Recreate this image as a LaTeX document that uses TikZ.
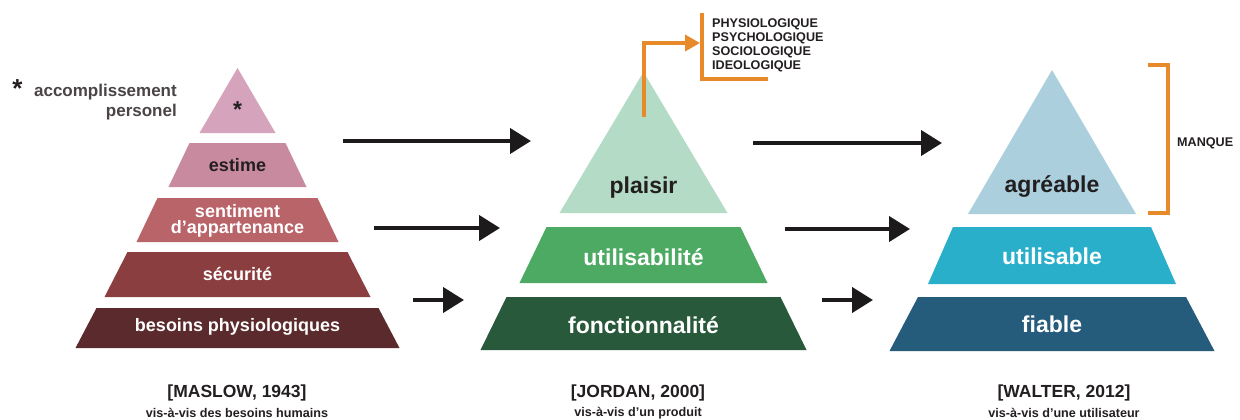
\documentclass[tikz,border=0pt]{standalone}
\usepackage{fontspec}
\setmainfont{Liberation Sans}
\usetikzlibrary{arrows.meta}
\definecolor{mA}{HTML}{D6A3BC}
\definecolor{mB}{HTML}{C88A9E}
\definecolor{mC}{HTML}{B96469}
\definecolor{mD}{HTML}{8B3E40}
\definecolor{mE}{HTML}{5B2A2C}
\definecolor{jA}{HTML}{B3DBC6}
\definecolor{jB}{HTML}{4CAA62}
\definecolor{jC}{HTML}{28593A}
\definecolor{wA}{HTML}{ABCFDD}
\definecolor{wB}{HTML}{2AAFCB}
\definecolor{wC}{HTML}{255B7B}
\definecolor{orangeline}{HTML}{E8892A}
\definecolor{arrowblack}{HTML}{1C1A1A}
\definecolor{textdark}{HTML}{231F20}
\definecolor{labelgray}{HTML}{4A4446}
\newcommand\pyrlayer[6]{\fill[#6] ({#1-#3},#2) -- ({#1+#3},#2) -- ({#1+#5},#4) -- ({#1-#5},#4) -- cycle;}
\tikzset{
  lbl/.style={font=\bfseries\fontsize{18}{16.5}\selectfont, align=center, inner sep=0pt, text=white},
  big/.style={font=\bfseries\fontsize{23}{26}\selectfont, inner sep=0pt, text=white},
  flow/.style={line width=4.2pt, draw=arrowblack, -{Triangle[length=21pt,width=25pt]}},
  obr/.style={line width=3.5pt, draw=orangeline},
  small/.style={font=\bfseries\fontsize{12.6}{14}\selectfont, inner sep=0pt, text=textdark},
  refl/.style={font=\bfseries\fontsize{17.5}{20}\selectfont, inner sep=0pt, text=textdark},
  subl/.style={font=\bfseries\fontsize{12.6}{14}\selectfont, inner sep=0pt, text=textdark},
}
\begin{document}
\begin{tikzpicture}[x=1pt,y=-1pt]
\useasboundingbox[fill=white] (0,0) rectangle (1240,420);
% ---------- Maslow ----------
\fill[mA] (237.5,68) -- (275.5,133) -- (199.5,133) -- cycle;
\pyrlayer{237.5}{143}{48}{187}{69}{mB}
\pyrlayer{237.5}{198}{80}{242}{101}{mC}
\pyrlayer{237.5}{252}{110}{297}{133}{mD}
\pyrlayer{237.5}{308}{141}{348}{162}{mE}
\node[big, text=textdark, anchor=north] (mstar) at (237.5,101) {*};
\node[lbl, text=textdark] (mest) at (237.5,165) {estime};
\node[lbl] (msent) at (237.5,221) {sentiment\\d’appartenance};
\node[lbl] (msec) at (237.5,274) {sécurité};
\node[lbl] (mbes) at (237.5,327) {besoins physiologiques};
\node[font=\bfseries\fontsize{26}{26}\selectfont, inner sep=0pt, text=textdark, anchor=north] (lstar) at (17.5,79) {*};
\node[font=\bfseries\fontsize{17}{19.5}\selectfont, inner sep=0pt, text=labelgray, align=right, anchor=east] (lacc) at (177,102) {accomplissement\\personel};
% ---------- Jordan ----------
\fill[jA] (643.5,72) -- (727.5,213) -- (559.5,213) -- cycle;
\pyrlayer{643.5}{227}{97}{283}{124}{jB}
\pyrlayer{643.5}{297}{137}{350}{163}{jC}
\node[big, text=textdark] (jpl) at (643.5,188) {plaisir};
\node[big] (jut) at (643.5,257) {utilisabilité};
\node[big] (jfo) at (643.5,325) {fonctionnalité};
% ---------- Walter ----------
\fill[wA] (1052,70) -- (1136,214) -- (968,214) -- cycle;
\pyrlayer{1052}{227}{99}{284}{124}{wB}
\pyrlayer{1052}{297}{134}{351}{162.5}{wC}
\node[big, text=textdark] (wag) at (1052,187) {agréable};
\node[big] (wut) at (1052,256) {utilisable};
\node[big] (wfi) at (1052,324) {fiable};
% ---------- black arrows ----------
\coordinate (a1s) at (343,141); \coordinate (a1e) at (531,141);
\coordinate (a2s) at (374,228); \coordinate (a2e) at (500,228);
\coordinate (a3s) at (413,300); \coordinate (a3e) at (464,300);
\coordinate (b1s) at (753,143); \coordinate (b1e) at (942,143);
\coordinate (b2s) at (785,229); \coordinate (b2e) at (910,229);
\coordinate (b3s) at (822,300); \coordinate (b3e) at (873,300);
\draw[flow] (a1s) -- (a1e);
\draw[flow] (a2s) -- (a2e);
\draw[flow] (a3s) -- (a3e);
\draw[flow] (b1s) -- (b1e);
\draw[flow] (b2s) -- (b2e);
\draw[flow] (b3s) -- (b3e);
% ---------- orange annotations ----------
\coordinate (o1) at (644,117); \coordinate (o2) at (700,43);
\draw[obr, -{Triangle[length=15pt,width=16pt]}] (o1) |- (o2);
\coordinate (k1) at (702,13); \coordinate (k2) at (768,79);
\draw[obr] (k1) |- (k2);
\node[small, anchor=west] (t1) at (712,24) {PHYSIOLOGIQUE};
\node[small, anchor=west] (t2) at (712,38) {PSYCHOLOGIQUE};
\node[small, anchor=west] (t3) at (712,52) {SOCIOLOGIQUE};
\node[small, anchor=west] (t4) at (712,66) {IDEOLOGIQUE};
\coordinate (q1) at (1148,65); \coordinate (q2) at (1168,65);
\coordinate (q3) at (1168,213); \coordinate (q4) at (1148,213);
\draw[obr] (q1) -- (q2) -- (q3) -- (q4);
\node[small, anchor=west] (manque) at (1177,143) {MANQUE};
% ---------- references ----------
\node[refl] (rm) at (237,393) {[MASLOW, 1943]};
\node[subl] (sm) at (237,413) {vis-à-vis des besoins humains};
\node[refl] (rj) at (638,393) {[JORDAN, 2000]};
\node[subl] (sj) at (638,413) {vis-à-vis d’un produit};
\node[refl] (rw) at (1064,393) {[WALTER, 2012]};
\node[subl] (sw) at (1064,413) {vis-à-vis d’une utilisateur};
\end{tikzpicture}
\end{document}
